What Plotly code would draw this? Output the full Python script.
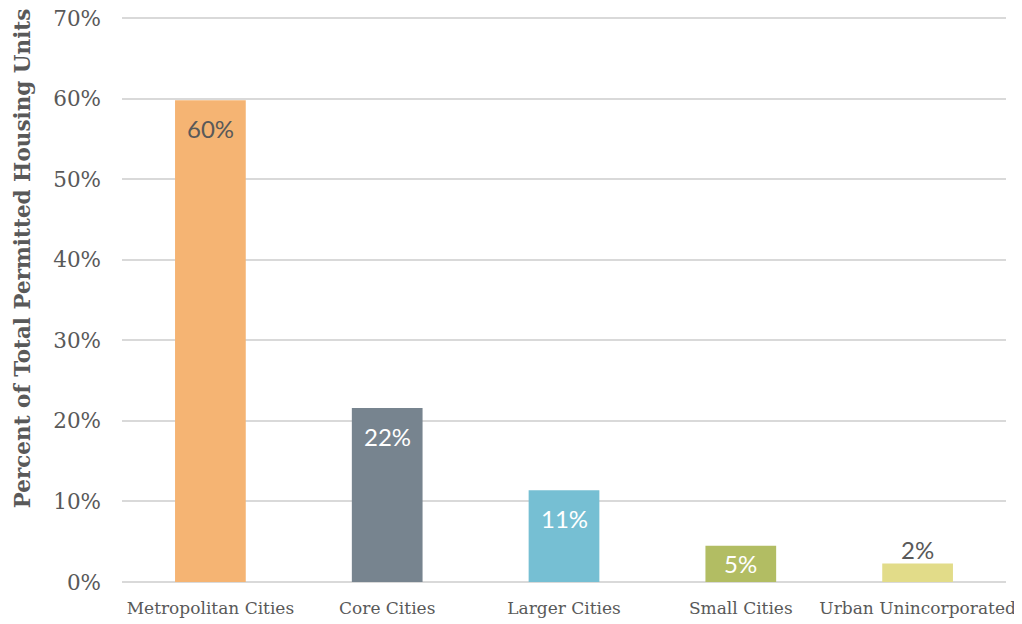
import plotly.graph_objects as go

categories = ["Metropolitan Cities", "Core Cities", "Larger Cities", "Small Cities", "Urban Unincorporated"]
values = [59.8, 21.6, 11.4, 4.5, 2.3]
labels = ["60%", "22%", "11%", "5%", "2%"]
colors = ["#F5B473", "#77848F", "#76BFD3", "#B2BD63", "#E2DC89"]
label_colors = ["#595959", "white", "white", "white", "#595959"]
label_pos = ["end", "end", "end", "mid", "out"]
y_ticks = [0, 10, 20, 30, 40, 50, 60, 70]
y_tick_text = ["0%", "10%", "20%", "30%", "40%", "50%", "60%", "70%"]

fig = go.Figure()
fig.add_trace(go.Bar(
    x=categories, y=values,
    marker=dict(color=colors, line=dict(width=0)),
    hoverinfo="skip",
))

for c, v, t, col, pos in zip(categories, values, labels, label_colors, label_pos):
    if pos == "end":
        ya, yy, ys = "top", v, -12
    elif pos == "mid":
        ya, yy, ys = "middle", v / 2, 0
    else:
        ya, yy, ys = "bottom", v, -3
    fig.add_annotation(
        x=c, y=yy, text=t, showarrow=False,
        yanchor=ya, yshift=ys,
        font=dict(family="Lato, Open Sans, sans-serif", size=24, color=col),
    )

fig.add_annotation(
    xref="paper", yref="paper", x=-0.113, y=0.571,
    text="<b>Percent of Total Permitted Housing Units</b>",
    textangle=-90, showarrow=False, xanchor="center", yanchor="middle",
    font=dict(family="DejaVu Serif, Liberation Serif, serif", size=21.5, color="#595959"),
)

fig.update_layout(
    width=1014, height=616,
    margin=dict(l=114, r=16, t=7, b=42, autoexpand=False),
    plot_bgcolor="white", paper_bgcolor="white",
    bargap=0.6, showlegend=False,
    font=dict(family="DejaVu Serif, Liberation Serif, serif", color="#595959"),
)
fig.update_yaxes(
    range=[0, 70.4], tickvals=y_ticks, ticktext=y_tick_text,
    showgrid=True, gridcolor="#D9D9D9", gridwidth=1.5,
    zeroline=True, zerolinecolor="#D9D9D9", zerolinewidth=1.5,
    ticks="", ticklabelstandoff=20, automargin=False,
    ticklabeloverflow="allow",
    tickfont=dict(family="DejaVu Serif, Liberation Serif, serif", size=21.5, color="#595959"),
)
fig.update_xaxes(
    showgrid=False, ticks="", showline=False, automargin=False,
    ticklabelstandoff=14, ticklabeloverflow="allow",
    tickfont=dict(family="DejaVu Serif, Liberation Serif, serif", size=17, color="#595959"),
)

fig.write_html("out.html")
